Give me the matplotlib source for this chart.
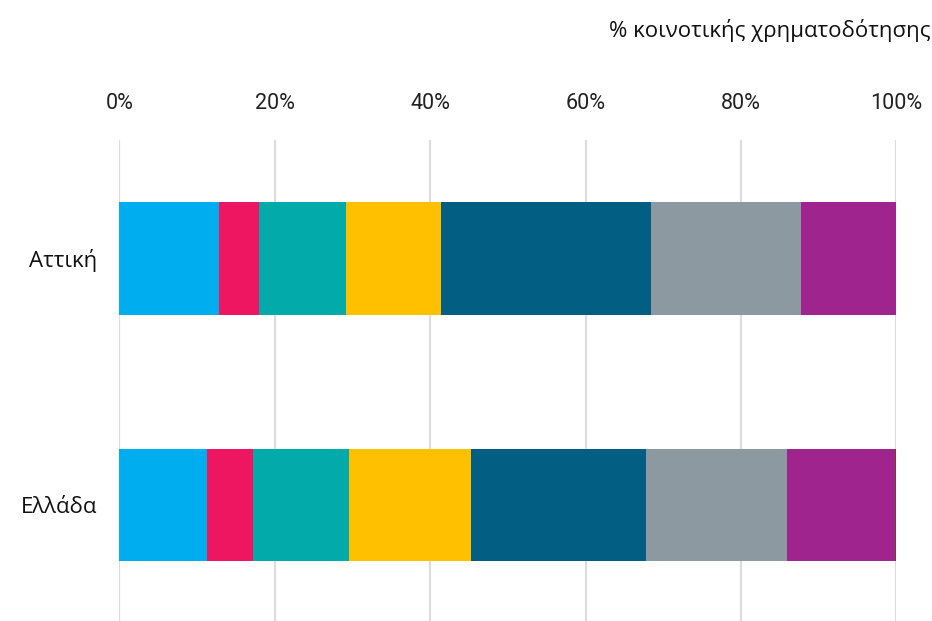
import matplotlib
matplotlib.use("Agg")
import matplotlib.pyplot as plt
from matplotlib import font_manager
import numpy as np

# data (percent of total funding)
regions = ['Αττική', 'Ελλάδα']
attiki = [12.8, 5.2, 11.2, 12.2, 27.0, 19.3, 12.3, 0.0]
ellada = [11.3, 5.9, 12.4, 15.7, 22.5, 18.1, 13.9, 0.2]
colors = ['#00AEEF', '#EE1660', '#02AAAA', '#FFC000', '#025E82',
          '#8C99A1', '#A0248D', '#7E3B2C']
xticks = [0, 20, 40, 60, 80, 100]
xtick_labels = ['0%', '20%', '40%', '60%', '80%', '100%']
title = '% κοινοτικής χρηματοδότησης'

installed = {f.name for f in font_manager.fontManager.ttflist}
tick_font = 'Liberation Sans Narrow' if 'Liberation Sans Narrow' in installed else 'Roboto'
label_font = 'Open Sans'

fig = plt.figure(figsize=(9.32, 6.21), dpi=100)
ax = fig.add_axes([119.3 / 932, 0, (896.3 - 119.3) / 932, 1 - 140 / 621])

data = np.array([attiki, ellada])
y = np.arange(len(regions))
left = np.zeros(len(regions))
for i in range(data.shape[1]):
    ax.barh(y, data[:, i], left=left, height=0.455, color=colors[i],
            edgecolor='none', zorder=2)
    left += data[:, i]

ax.set_xlim(0, 100)
ax.set_ylim(1.47, -0.48)
ax.set_xticks(xticks)
ax.set_xticklabels(xtick_labels, fontsize=15.5, family=tick_font, color='#222222')
ax.xaxis.tick_top()
ax.tick_params(axis='x', length=0, pad=19)
ax.set_yticks(y)
ax.set_yticklabels(regions, fontsize=16, family=label_font, color='#111111')
ax.tick_params(axis='y', length=0, pad=16)
ax.grid(axis='x', color='#DDDDDD', linewidth=1.6, zorder=0)
for s in ax.spines.values():
    s.set_visible(False)

fig.text(0.998, 1 - 30 / 621, title, ha='right', va='center',
         fontsize=16, family=label_font, color='#111111')

fig.savefig('out.png', dpi=100)
